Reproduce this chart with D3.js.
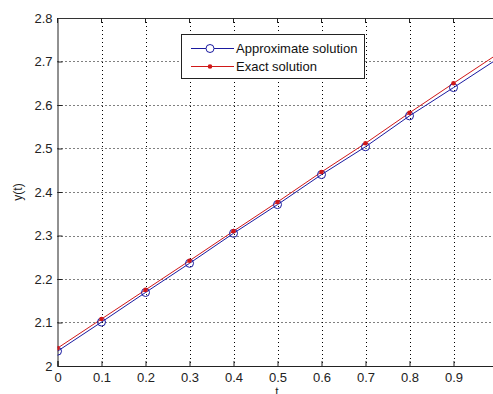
<!DOCTYPE html>
<html><head><meta charset="utf-8">
<script src="https://cdn.jsdelivr.net/npm/d3@7"></script>
<style>html,body{margin:0;padding:0;background:#fff;overflow:hidden}</style>
</head><body>
<script>
const tValues = [0, 0.1, 0.2, 0.3, 0.4, 0.5, 0.6, 0.7, 0.8, 0.9, 1.0];
const approxValues = [2.034, 2.101, 2.169, 2.236, 2.305, 2.371, 2.440, 2.504, 2.575, 2.640, 2.706];
const exactValues = [2.041, 2.108, 2.175, 2.242, 2.310, 2.377, 2.446, 2.512, 2.582, 2.650, 2.717];
const xTicks = [0, 0.1, 0.2, 0.3, 0.4, 0.5, 0.6, 0.7, 0.8, 0.9];
const yTicks = [2, 2.1, 2.2, 2.3, 2.4, 2.5, 2.6, 2.7, 2.8];
const seriesNames = ["Approximate solution", "Exact solution"];

const W = 493, H = 394;
const m = {left: 57.5, top: 18, right: 497.5, bottom: 366};
const FONT = "'Liberation Sans', Arial, sans-serif";
const svg = d3.select("body").append("svg").attr("width", W).attr("height", H)
  .style("font-family", FONT);
const x = d3.scaleLinear().domain([0, 1]).range([m.left, m.right]);
const y = d3.scaleLinear().domain([2, 2.8]).range([m.bottom, m.top]);

svg.append("defs").append("clipPath").attr("id", "clip")
  .append("rect").attr("x", m.left).attr("y", m.top).attr("width", m.right - m.left).attr("height", m.bottom - m.top);

// grid
const grid = svg.append("g");
grid.selectAll(".gx").data(xTicks.slice(1)).join("line")
  .attr("x1", d => Math.round(x(d)) + 0.5).attr("x2", d => Math.round(x(d)) + 0.5)
  .attr("y1", m.top).attr("y2", m.bottom)
  .attr("stroke", "#000").attr("stroke-width", 1).attr("stroke-dasharray", "1,3");
grid.selectAll(".gy").data(yTicks.slice(1, -1)).join("line")
  .attr("y1", d => Math.round(y(d)) + 0.5).attr("y2", d => Math.round(y(d)) + 0.5)
  .attr("x1", m.left).attr("x2", m.right)
  .attr("stroke", "#000").attr("stroke-width", 1).attr("stroke-dasharray", "1,3");

// axes
const xAxis = d3.axisBottom(x).tickValues(xTicks).tickSize(-5).tickPadding(7).tickFormat(d3.format("~g"));
const yAxis = d3.axisLeft(y).tickValues(yTicks).tickSize(-5).tickPadding(5).tickFormat(d3.format("~g"));
const gx = svg.append("g").attr("transform", `translate(0,${m.bottom})`).call(xAxis);
const gy = svg.append("g").attr("transform", `translate(${m.left},0)`).call(yAxis);
[gx, gy].forEach(g => {
  g.select(".domain").attr("stroke", "#222");
  g.selectAll(".tick line").attr("stroke", "#222");
  g.selectAll("text").attr("fill", "#222").style("font-size", "13px").style("font-family", FONT);
});
svg.append("line").attr("x1", m.left).attr("x2", m.right).attr("y1", m.top + 0.5).attr("y2", m.top + 0.5).attr("stroke", "#333");
// top ticks (inward)
svg.append("g").selectAll("line").data(xTicks).join("line")
  .attr("x1", d => x(d)).attr("x2", d => x(d)).attr("y1", m.top).attr("y2", m.top + 5).attr("stroke", "#222");

// labels
svg.append("text").attr("x", 277).attr("y", 396).attr("text-anchor", "middle")
  .style("font-size", "12px").attr("fill", "#222").text("t");
svg.append("text").attr("transform", `translate(22,192) rotate(-90)`).attr("text-anchor", "middle")
  .style("font-size", "12px").attr("fill", "#222").text("y(t)");

const blue = "#1a1aa0", red = "#d01818";
const plot = svg.append("g").attr("clip-path", "url(#clip)");
const lineGen = vals => d3.line().x((d, i) => x(tValues[i])).y(d => y(d))(vals);
plot.append("path").attr("d", lineGen(exactValues)).attr("fill", "none").attr("stroke", red).attr("stroke-width", 1);
plot.append("path").attr("d", lineGen(approxValues)).attr("fill", "none").attr("stroke", blue).attr("stroke-width", 1);
plot.selectAll(".c").data(approxValues).join("circle")
  .attr("cx", (d, i) => x(tValues[i])).attr("cy", d => y(d)).attr("r", 4)
  .attr("fill", "none").attr("stroke", blue).attr("stroke-width", 1);
plot.selectAll(".d").data(exactValues).join("circle")
  .attr("cx", (d, i) => x(tValues[i])).attr("cy", d => y(d)).attr("r", 2.3)
  .attr("fill", red).attr("stroke", "none");

// legend
const lg = svg.append("g");
lg.append("rect").attr("x", 181.5).attr("y", 34.5).attr("width", 183).attr("height", 44)
  .attr("fill", "#fff").attr("stroke", "#222");
const rows = [{name: seriesNames[0], col: blue, yy: 48.5}, {name: seriesNames[1], col: red, yy: 66.5}];
rows.forEach((r, i) => {
  lg.append("line").attr("x1", 191).attr("x2", 234).attr("y1", r.yy).attr("y2", r.yy).attr("stroke", r.col);
  if (i === 0) lg.append("circle").attr("cx", 210).attr("cy", r.yy).attr("r", 4).attr("fill", "#fff").attr("stroke", r.col);
  else lg.append("circle").attr("cx", 210).attr("cy", r.yy).attr("r", 2.3).attr("fill", r.col);
  lg.append("text").attr("x", 236).attr("y", r.yy + 4.5).style("font-size", "13px").attr("fill", "#111").text(r.name);
});
</script>
</body></html>
